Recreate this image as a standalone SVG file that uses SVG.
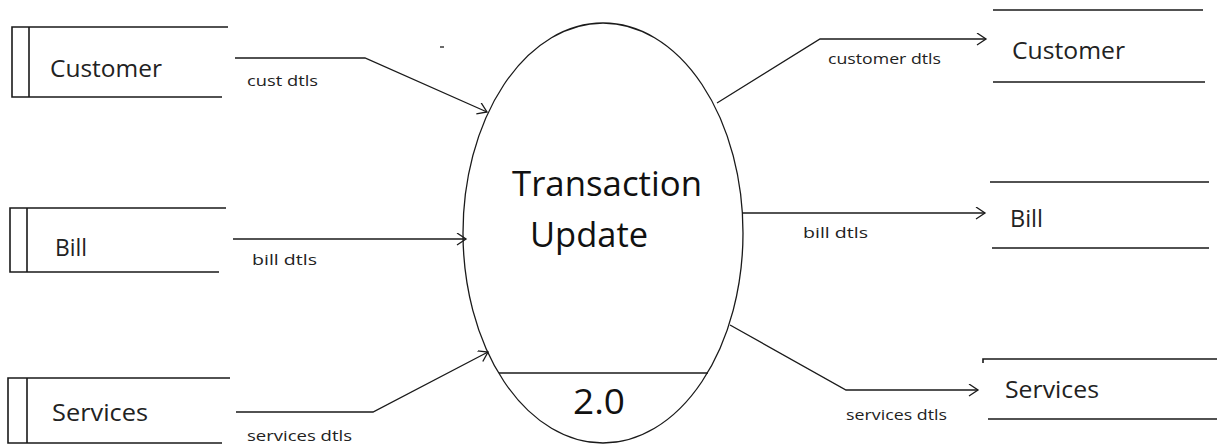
<svg xmlns="http://www.w3.org/2000/svg" width="1217" height="447" viewBox="0 0 1217 447">
<style>
.ln{stroke:#1a1a1a;stroke-width:1.6;fill:none}
.fl{stroke:#1a1a1a;stroke-width:1.3;fill:none}
.big{font-family:"Open Sans","Noto Sans",sans-serif;font-size:23px;fill:#222}
.lbl{font-family:"Open Sans","Noto Sans",sans-serif;font-size:15px;fill:#222}
.proc{font-family:"Open Sans","Noto Sans",sans-serif;font-size:35px;fill:#111}
</style>
<defs>
<marker id="ah" markerUnits="userSpaceOnUse" markerWidth="14" markerHeight="14" refX="10" refY="6" orient="auto">
<path d="M1,0 L10,6 L1,12" fill="none" stroke="#1a1a1a" stroke-width="1.3"/>
</marker>
</defs>
<rect width="1217" height="447" fill="#fff"/>

<g id="src-customer">
<path class="ln" d="M228,27 H12 V97 H222 M29,27 V97"/>
<text class="big" x="50" y="77" textLength="112" lengthAdjust="spacingAndGlyphs">Customer</text>
</g>
<g id="src-bill">
<path class="ln" d="M226,208 H10 V272 H219 M27,208 V272"/>
<text class="big" x="55" y="256" textLength="32" lengthAdjust="spacingAndGlyphs">Bill</text>
</g>
<g id="src-services">
<path class="ln" d="M230,378 H8 V443 H222 M27,378 V443"/>
<text class="big" x="52" y="421" textLength="96" lengthAdjust="spacingAndGlyphs">Services</text>
</g>

<g id="process">
<ellipse class="fl" cx="603" cy="233" rx="140" ry="210" fill="#fff"/>
<line class="fl" x1="499" y1="373" x2="708" y2="373"/>
<text class="proc" x="512" y="196" textLength="190" lengthAdjust="spacingAndGlyphs">Transaction</text>
<text class="proc" x="530" y="247" textLength="118" lengthAdjust="spacingAndGlyphs">Update</text>
<text class="proc" x="573" y="414" textLength="52" lengthAdjust="spacingAndGlyphs">2.0</text>
</g>

<g id="dst-customer">
<path class="ln" d="M993,10 H1203 M993,82 H1205"/>
<text class="big" x="1012" y="59" textLength="113" lengthAdjust="spacingAndGlyphs">Customer</text>
</g>
<g id="dst-bill">
<path class="ln" d="M990,182 H1209 M992,248 H1209"/>
<text class="big" x="1010" y="227" textLength="33" lengthAdjust="spacingAndGlyphs">Bill</text>
</g>
<g id="dst-services">
<path class="ln" d="M983,363 V359 H1217 M988,419 H1217"/>
<text class="big" x="1005" y="398" textLength="94" lengthAdjust="spacingAndGlyphs">Services</text>
</g>

<g id="connectors">
<polyline class="fl" points="235,58 365,58 487,112" marker-end="url(#ah)"/>
<line class="fl" x1="233" y1="239" x2="466" y2="239" marker-end="url(#ah)"/>
<polyline class="fl" points="236,412 373,412 488,352" marker-end="url(#ah)"/>
<polyline class="fl" points="717,103 820,39 986,39" marker-end="url(#ah)"/>
<line class="fl" x1="742" y1="213" x2="985" y2="213" marker-end="url(#ah)"/>
<polyline class="fl" points="730,325 846,390 978,390" marker-end="url(#ah)"/>
<line class="fl" x1="440" y1="47" x2="444" y2="47"/>
<text class="lbl" x="247" y="86" textLength="71" lengthAdjust="spacingAndGlyphs">cust dtls</text>
<text class="lbl" x="252" y="265" textLength="65" lengthAdjust="spacingAndGlyphs">bill dtls</text>
<text class="lbl" x="247" y="441" textLength="105" lengthAdjust="spacingAndGlyphs">services dtls</text>
<text class="lbl" x="828" y="64" textLength="113" lengthAdjust="spacingAndGlyphs">customer dtls</text>
<text class="lbl" x="803" y="238" textLength="65" lengthAdjust="spacingAndGlyphs">bill dtls</text>
<text class="lbl" x="846" y="420" textLength="101" lengthAdjust="spacingAndGlyphs">services dtls</text>
</g>
</svg>
